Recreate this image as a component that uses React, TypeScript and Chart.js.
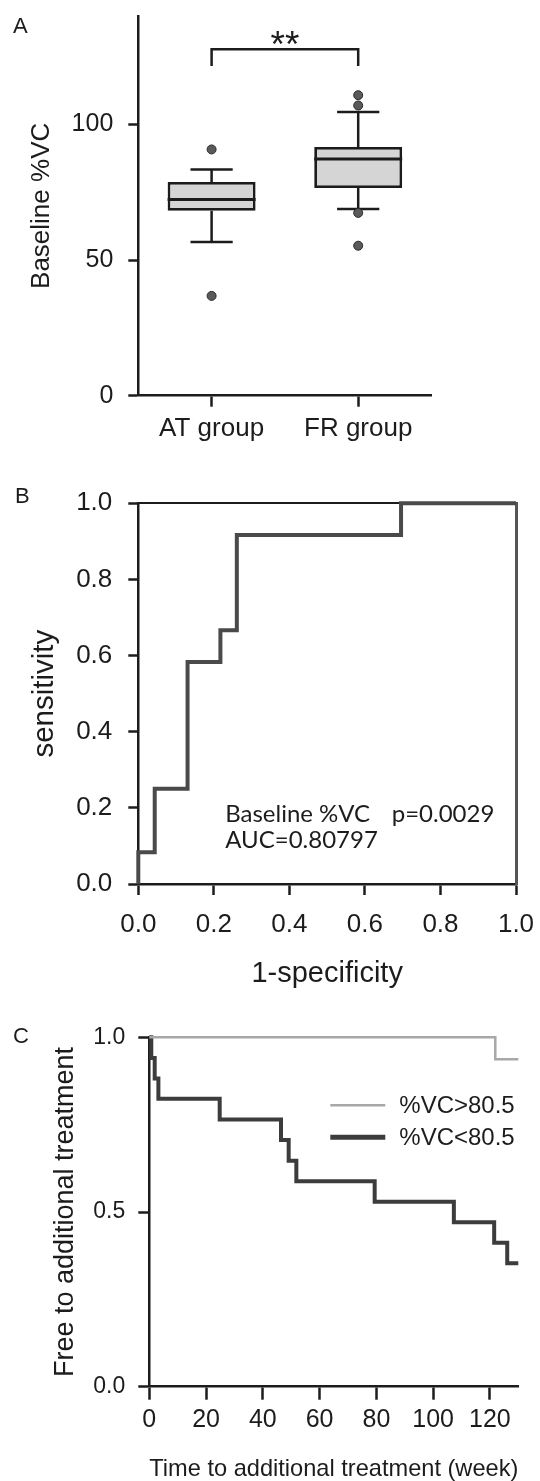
import React, { useEffect, useRef } from "react";
import { Chart, registerables } from "chart.js";
Chart.register(...registerables);

// ---------- Panel A : box plot ----------
const groups = ["AT group", "FR group"];
const q1 = [68.2, 76.6];
const median = [72.3, 87.3];
const q3 = [78.8, 91.7];
const whiskerLow = [56.7, 68.8];
const whiskerHigh = [83.4, 104.6];
const outlierGroup = ["AT group", "AT group", "FR group", "FR group", "FR group", "FR group"];
const outlierValue = [90.8, 36.8, 110.8, 107.0, 67.4, 55.3];
const bracketGroup = ["AT group", "AT group", "FR group", "FR group"];
const bracketValue = [121.6, 127.7, 127.7, 121.6];
const starValue = 132.6;
const yTicksA = [0, 50, 100];

// ---------- Panel B : ROC ----------
const fpr = [0, 0, 1 / 23, 3 / 23, 5 / 23, 6 / 23, 16 / 23, 1];
const tpr = [0, 1 / 12, 3 / 12, 7 / 12, 8 / 12, 11 / 12, 1, 1];
const rocTicks = [0, 0.2, 0.4, 0.6, 0.8, 1.0];
const annotText = ["Baseline %VC", "p=0.0029", "AUC=0.80797"];
const annotX = [0.23, 0.671, 0.23];
const annotY = [0.164, 0.164, 0.094];

// ---------- Panel C : Kaplan-Meier ----------
const seriesLabels = ["%VC>80.5", "%VC<80.5"];
const weeksHigh = [0, 121.9, 130];
const survHigh = [1, 0.9375, 0.9375];
const weeksLow = [0, 0.7, 1.9, 3.2, 24.8, 46.4, 49.1, 51.8, 79.4, 107.3, 121.5, 126.1, 130];
const survLow = [1, 0.941, 0.882, 0.824, 0.765, 0.706, 0.647, 0.588, 0.529, 0.471, 0.412, 0.353, 0.353];
const weekTicks = [0, 20, 40, 60, 80, 100, 120];
const survTicks = [0, 0.5, 1.0];

const SANS = "'Liberation Sans', Arial, Helvetica, sans-serif";
const INK = "#1c1c1c";

function axis() {
  return {
    border: { display: true, color: INK, width: 2.5 },
  };
}
function gridOpts(tickLen: number) {
  return {
    display: true,
    drawOnChartArea: false,
    drawTicks: true,
    tickLength: tickLen,
    tickWidth: 2.5,
    tickColor: INK,
    color: INK,
    offset: false,
  };
}
function tickOpts(fontSize: number, pad: number, cb?: (v: any) => string) {
  const t: any = {
    color: INK,
    font: { family: SANS, size: fontSize },
    padding: pad,
    maxRotation: 0,
    autoSkip: false,
  };
  if (cb) t.callback = cb;
  return t;
}
function fixedTicks(vals: number[]) {
  return (s: any) => {
    s.ticks = vals.map((v) => ({ value: v }));
  };
}
function fitH(h: number) {
  return (s: any) => {
    s.height = h;
    s.paddingLeft = 0;
    s.paddingRight = 0;
  };
}
function fitW(w: number) {
  return (s: any) => {
    s.width = w;
    s.paddingTop = 0;
    s.paddingBottom = 0;
  };
}

const letterPlugin = (letter: string, x: number, y: number, size: number) => ({
  id: "letter" + letter,
  afterDraw(chart: any) {
    const ctx = chart.ctx;
    ctx.save();
    ctx.fillStyle = INK;
    ctx.font = `${size}px ${SANS}`;
    ctx.textBaseline = "alphabetic";
    ctx.textAlign = "left";
    ctx.fillText(letter, x, y);
    ctx.restore();
  },
});

const boxExtras = {
  id: "boxExtras",
  beforeDatasetsDraw(chart: any) {
    const ctx = chart.ctx;
    const y = chart.scales.y;
    const meta = chart.getDatasetMeta(0);
    ctx.save();
    ctx.strokeStyle = INK;
    ctx.lineWidth = 2.5;
    meta.data.forEach((bar: any, i: number) => {
      const cx = bar.x;
      const capHalf = bar.width * 0.24;
      const yHi = y.getPixelForValue(whiskerHigh[i]);
      const yLo = y.getPixelForValue(whiskerLow[i]);
      ctx.beginPath();
      ctx.moveTo(cx, y.getPixelForValue(q3[i]));
      ctx.lineTo(cx, yHi);
      ctx.moveTo(cx - capHalf, yHi);
      ctx.lineTo(cx + capHalf, yHi);
      ctx.moveTo(cx, y.getPixelForValue(q1[i]));
      ctx.lineTo(cx, yLo);
      ctx.moveTo(cx - capHalf, yLo);
      ctx.lineTo(cx + capHalf, yLo);
      ctx.stroke();
    });
    ctx.restore();
  },
  afterDatasetsDraw(chart: any) {
    const ctx = chart.ctx;
    const y = chart.scales.y;
    const x = chart.scales.x;
    const meta = chart.getDatasetMeta(0);
    ctx.save();
    ctx.strokeStyle = INK;
    ctx.lineWidth = 3;
    meta.data.forEach((bar: any, i: number) => {
      const ym = y.getPixelForValue(median[i]);
      ctx.beginPath();
      ctx.moveTo(bar.x - bar.width / 2, ym);
      ctx.lineTo(bar.x + bar.width / 2, ym);
      ctx.stroke();
    });
    const sx = (x.getPixelForValue(0) + x.getPixelForValue(1)) / 2;
    ctx.fillStyle = INK;
    ctx.font = `37px ${SANS}`;
    ctx.textAlign = "center";
    ctx.textBaseline = "alphabetic";
    ctx.fillText("**", sx, y.getPixelForValue(starValue) + 21);
    ctx.restore();
  },
};

function configA(): any {
  return {
    type: "bar",
    data: {
      labels: groups,
      datasets: [
        {
          type: "bar",
          data: groups.map((_, i) => [q1[i], q3[i]]),
          backgroundColor: "#d5d5d5",
          borderColor: INK,
          borderWidth: 2.8,
          borderSkipped: false,
          barPercentage: 0.6,
          categoryPercentage: 1,
          order: 3,
        },
        {
          type: "line",
          data: outlierGroup.map((g, i) => ({ x: g, y: outlierValue[i] })),
          showLine: false,
          pointRadius: 4.5,
          pointBackgroundColor: "#5a5a5a",
          pointBorderColor: "#2a2a2a",
          pointBorderWidth: 1,
          order: 1,
        },
        {
          type: "line",
          data: bracketGroup.map((g, i) => ({ x: g, y: bracketValue[i] })),
          borderColor: INK,
          borderWidth: 2.5,
          pointRadius: 0,
          fill: false,
          order: 0,
        },
      ],
    },
    options: {
      responsive: false,
      animation: false,
      devicePixelRatio: 1,
      layout: { padding: { left: 0, right: 108.5, top: 16, bottom: 0 } },
      plugins: { legend: { display: false }, tooltip: { enabled: false } },
      scales: {
        x: {
          type: "category",
          offset: true,
          ...axis(),
          grid: gridOpts(11),
          ticks: tickOpts(26, 7),
          afterFit: fitH(64.3),
        },
        y: {
          type: "linear",
          min: 0,
          max: 140,
          afterBuildTicks: fixedTicks(yTicksA),
          ...axis(),
          grid: gridOpts(10),
          ticks: tickOpts(25, 15),
          title: {
            display: true,
            text: "Baseline %VC",
            color: INK,
            font: { family: SANS, size: 26, lineHeight: 1 },
            padding: { top: 29, bottom: 0 },
          },
          afterFit: fitW(138.3),
        },
      },
    },
    plugins: [boxExtras, letterPlugin("A", 13, 33, 22)],
  };
}

const rocText = {
  id: "rocText",
  afterDatasetsDraw(chart: any) {
    const ctx = chart.ctx;
    const x = chart.scales.x;
    const y = chart.scales.y;
    ctx.save();
    ctx.fillStyle = INK;
    ctx.font = `24px Lato, 'Open Sans', sans-serif`;
    ctx.textAlign = "left";
    ctx.textBaseline = "alphabetic";
    annotText.forEach((t, i) => {
      ctx.fillText(t, x.getPixelForValue(annotX[i]), y.getPixelForValue(annotY[i]));
    });
    ctx.restore();
  },
};

function configB(): any {
  return {
    type: "scatter",
    data: {
      datasets: [
        {
          data: fpr.map((v, i) => ({ x: v, y: tpr[i] })),
          showLine: true,
          stepped: "before",
          borderColor: "#4a4a4a",
          borderWidth: 4,
          pointRadius: 0,
          fill: false,
          clip: 6,
        },
      ],
    },
    options: {
      responsive: false,
      animation: false,
      devicePixelRatio: 1,
      layout: { padding: { left: 0, right: 24, top: 43.3, bottom: 0 } },
      plugins: { legend: { display: false }, tooltip: { enabled: false } },
      scales: {
        x: {
          type: "linear",
          min: 0,
          max: 1,
          afterBuildTicks: fixedTicks(rocTicks),
          ...axis(),
          grid: gridOpts(11),
          ticks: tickOpts(26, 14, (v) => Number(v).toFixed(1)),
          title: {
            display: true,
            text: "1-specificity",
            color: INK,
            font: { family: SANS, size: 29, lineHeight: 1 },
            padding: { top: 0, bottom: 12 },
          },
          afterFit: fitH(116),
        },
        y: {
          type: "linear",
          min: 0,
          max: 1,
          afterBuildTicks: fixedTicks(rocTicks),
          ...axis(),
          grid: gridOpts(10),
          ticks: tickOpts(26, 16, (v) => Number(v).toFixed(1)),
          title: {
            display: true,
            text: "sensitivity",
            color: INK,
            font: { family: SANS, size: 29.5, lineHeight: 1 },
            padding: { top: 30, bottom: 0 },
          },
          afterFit: fitW(138.3),
        },
        x2: {
          type: "linear",
          position: "top",
          min: 0,
          max: 1,
          ticks: { display: false },
          grid: { display: false },
          border: { display: true, color: INK, width: 2 },
          afterFit: (s: any) => {
            s.height = 0;
            s.paddingLeft = 0;
            s.paddingRight = 0;
          },
        },
        y2: {
          type: "linear",
          position: "right",
          min: 0,
          max: 1,
          ticks: { display: false },
          grid: { display: false },
          border: { display: true, color: "#555", width: 3 },
          afterFit: (s: any) => {
            s.width = 0;
            s.paddingTop = 0;
            s.paddingBottom = 0;
          },
        },
      },
    },
    plugins: [rocText, letterPlugin("B", 15, 43.3, 22)],
  };
}

const kmLegend = {
  id: "kmLegend",
  afterDatasetsDraw(chart: any) {
    const ctx = chart.ctx;
    const a = chart.chartArea;
    ctx.save();
    ctx.font = `24px ${SANS}`;
    ctx.textAlign = "left";
    ctx.textBaseline = "middle";
    chart.data.datasets.forEach((ds: any, i: number) => {
      const yy = a.top + 68 + i * 32;
      ctx.strokeStyle = ds.borderColor;
      ctx.lineWidth = i === 0 ? 2.5 : 5;
      ctx.beginPath();
      ctx.moveTo(a.left + 181, yy);
      ctx.lineTo(a.left + 236, yy);
      ctx.stroke();
      ctx.fillStyle = INK;
      ctx.fillText(ds.label, a.left + 250, yy + 1);
    });
    ctx.restore();
  },
};

function configC(): any {
  return {
    type: "scatter",
    data: {
      datasets: [
        {
          label: seriesLabels[0],
          data: weeksHigh.map((v, i) => ({ x: v, y: survHigh[i] })),
          showLine: true,
          stepped: "before",
          borderColor: "#a8a8a8",
          borderWidth: 2.5,
          pointRadius: 0,
          fill: false,
          clip: 6,
        },
        {
          label: seriesLabels[1],
          data: weeksLow.map((v, i) => ({ x: v, y: survLow[i] })),
          showLine: true,
          stepped: "before",
          borderColor: "#3c3c3c",
          borderWidth: 4,
          pointRadius: 0,
          fill: false,
          clip: 6,
        },
      ],
    },
    options: {
      responsive: false,
      animation: false,
      devicePixelRatio: 1,
      layout: { padding: { left: 0, right: 21.7, top: 37.3, bottom: 0 } },
      plugins: { legend: { display: false }, tooltip: { enabled: false } },
      scales: {
        x: {
          type: "linear",
          min: 0,
          max: 130,
          afterBuildTicks: fixedTicks(weekTicks),
          ...axis(),
          grid: gridOpts(13),
          ticks: tickOpts(25, 5),
          title: {
            display: true,
            text: "Time to additional treatment (week)",
            color: INK,
            font: { family: SANS, size: 24, lineHeight: 1 },
            padding: { top: 0, bottom: 0 },
          },
          afterFit: fitH(94.3),
        },
        y: {
          type: "linear",
          min: 0,
          max: 1,
          afterBuildTicks: fixedTicks(survTicks),
          ...axis(),
          grid: gridOpts(11),
          ticks: tickOpts(23, 13, (v) => Number(v).toFixed(1)),
          title: {
            display: true,
            text: "Free to additional treatment",
            color: INK,
            font: { family: SANS, size: 27, lineHeight: 1 },
            padding: { top: 52, bottom: 0 },
          },
          afterFit: fitW(149.3),
        },
      },
    },
    plugins: [kmLegend, letterPlugin("C", 13, 43, 22)],
  };
}

export default function App() {
  const refA = useRef<HTMLCanvasElement>(null);
  const refB = useRef<HTMLCanvasElement>(null);
  const refC = useRef<HTMLCanvasElement>(null);
  useEffect(() => {
    const charts = [
      new Chart(refA.current!, configA()),
      new Chart(refB.current!, configB()),
      new Chart(refC.current!, configC()),
    ];
    return () => charts.forEach((c) => c.destroy());
  }, []);
  return (
    <div
      style={{
        position: "absolute",
        left: 0,
        top: 0,
        width: 540,
        height: 1481,
        background: "#fff",
        overflow: "hidden",
      }}
    >
      <canvas ref={refA} width={540} height={460} style={{ position: "absolute", left: 0, top: 0 }} />
      <canvas ref={refB} width={540} height={540} style={{ position: "absolute", left: 0, top: 460 }} />
      <canvas ref={refC} width={540} height={481} style={{ position: "absolute", left: 0, top: 1000 }} />
    </div>
  );
}
